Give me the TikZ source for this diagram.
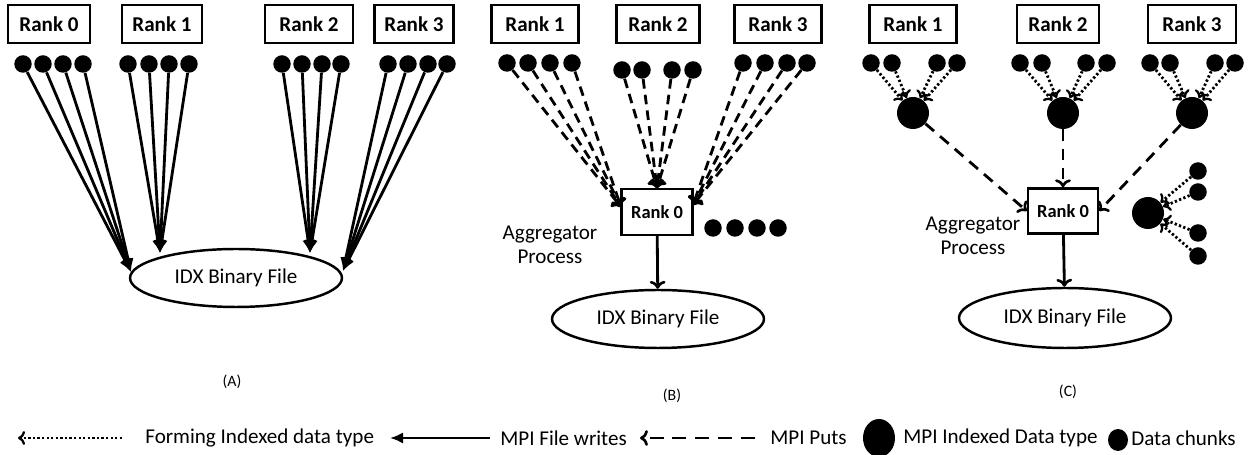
\documentclass[tikz,border=0pt]{standalone}
\usepackage{fontspec}
\setmainfont{Carlito}
\usetikzlibrary{arrows.meta,shapes.geometric}
\begin{document}
\begin{tikzpicture}[x=0.02cm,y=-0.02cm,
 font=\fontsize{12}{14}\selectfont,
 rankbox/.style={draw,line width=1.4pt,minimum height=0.76cm,inner sep=0pt,font=\fontsize{12}{14}\selectfont\bfseries},
 aggbox/.style={draw,line width=1.4pt,minimum width=1.42cm,minimum height=0.92cm,inner sep=0pt,font=\fontsize{10.5}{12}\selectfont\bfseries},
 chunk/.style={circle,fill,inner sep=0pt,minimum size=0.35cm},
 bigchunk/.style={circle,fill,inner sep=0pt,minimum size=0.64cm},
 filebox/.style={ellipse,draw,line width=1.4pt,minimum width=4.24cm,minimum height=1.16cm,inner sep=0pt},
 writearrow/.style={line width=1.6pt,-{Latex[length=7.5pt,width=6.5pt]}},
 putarrow/.style={line width=1.6pt,dash pattern=on 5.5pt off 3.5pt,-{Computer Modern Rightarrow[length=4.5pt,width=9pt,line width=1.5pt]}},
 formarrow/.style={line width=1.6pt,dash pattern=on 1.3pt off 1.3pt,-{Computer Modern Rightarrow[length=4pt,width=8pt,line width=1.3pt]}},
 downarrow/.style={line width=1.6pt,-{Computer Modern Rightarrow[length=4.5pt,width=9pt,line width=1.5pt]}},
 caption/.style={font=\fontsize{9}{11}\selectfont},
]
\useasboundingbox (0,0) rectangle (1249,455);

% ================= Panel A =================
\node[rankbox,minimum width=1.64cm] (A0) at (49,24) {Rank 0};
\node[rankbox,minimum width=1.60cm] (A1) at (162,24) {Rank 1};
\node[rankbox,minimum width=1.76cm] (A2) at (309,24) {Rank 2};
\node[rankbox,minimum width=1.58cm] (A3) at (414,24) {Rank 3};

\foreach \i/\x in {1/23,2/43,3/63,4/83} \node[chunk] (a0\i) at (\x,64) {};
\foreach \i/\x in {1/128,2/149,3/169,4/189} \node[chunk] (a1\i) at (\x,64) {};
\foreach \i/\x in {1/282,2/302,3/322,4/341} \node[chunk] (a2\i) at (\x,64) {};
\foreach \i/\x in {1/388,2/408,3/428,4/447} \node[chunk] (a3\i) at (\x,64) {};

\node[filebox] (fA) at (236,278) {IDX Binary File};
\coordinate (tA0) at (131,272);
\coordinate (tA1) at (160,253);
\coordinate (tA2) at (310,253);
\coordinate (tA3) at (343,271);
\foreach \r in {0,1,2,3}
  \foreach \i in {1,2,3,4}
    \draw[writearrow] (a\r\i) -- (tA\r);

\node[caption] (capA) at (232,382) {(A)};

% ================= Panel B =================
\node[rankbox,minimum width=1.74cm] (B1) at (535,24) {Rank 1};
\node[rankbox,minimum width=1.66cm] (B2) at (658,24) {Rank 2};
\node[rankbox,minimum width=1.74cm] (B3) at (778,24) {Rank 3};

\foreach \i/\x in {1/507,2/528,3/550,4/572} \node[chunk] (b1\i) at (\x,63) {};
\foreach \i/\x in {1/622,2/642,3/672,4/693} \node[chunk] (b2\i) at (\x,70) {};
\foreach \i/\x in {1/743,2/765,3/787,4/807} \node[chunk] (b3\i) at (\x,63) {};

\node[aggbox] (B0) at (657,212) {Rank 0};
\coordinate (tB1) at (621,207);
\coordinate (tB2) at (657,188);
\coordinate (tB3) at (693,205);
\foreach \r in {1,2,3}
  \foreach \i in {1,2,3,4}
    \draw[putarrow] (b\r\i) -- (tB\r);

\foreach \i/\x in {1/713,2/735,3/757,4/778} \node[chunk] (bx\i) at (\x,228) {};

\node[align=center] (aggB) at (550,245) {Aggregator\\Process};
\node[filebox] (fB) at (658,319) {IDX Binary File};
\draw[downarrow] (B0) -- (fB);
\node[caption] (capB) at (672,396) {(B)};

% ================= Panel C =================
\node[rankbox,minimum width=1.74cm] (C1) at (913,24) {Rank 1};
\node[rankbox,minimum width=1.64cm] (C2) at (1058,24) {Rank 2};
\node[rankbox,minimum width=1.76cm] (C3) at (1192,24) {Rank 3};

\foreach \i/\x in {1/871,2/892,3/937,4/957} \node[chunk] (c1\i) at (\x,63) {};
\foreach \i/\x in {1/1020,2/1042,3/1086,4/1107} \node[chunk] (c2\i) at (\x,63) {};
\foreach \i/\x in {1/1150,2/1170,3/1215,4/1235} \node[chunk] (c3\i) at (\x,63) {};

\node[bigchunk] (g1) at (913,113) {};
\node[bigchunk] (g2) at (1063,113) {};
\node[bigchunk] (g3) at (1192,113) {};
\foreach \r in {1,2,3}
  \foreach \i in {1,2,3,4}
    \draw[formarrow] (c\r\i) -- (g\r);

\node[aggbox,minimum width=1.40cm,minimum height=0.90cm] (C0) at (1063,211) {Rank 0};
\draw[putarrow,dash pattern=on 6.5pt off 4.5pt] (g1) -- (C0.west);
\draw[putarrow,dash pattern=on 6.5pt off 4.5pt] (g2) -- (C0.north);
\draw[putarrow,dash pattern=on 6.5pt off 4.5pt] (g3) -- (C0.east);

\node[bigchunk] (g4) at (1148,213) {};
\foreach \i/\y in {1/171,2/192,3/233,4/256} {
  \node[chunk] (c4\i) at (1198,\y) {};
  \draw[formarrow] (c4\i) -- (g4);
}

\node[align=center] (aggC) at (973,236) {Aggregator\\Process};
\node[filebox,minimum height=1.2cm] (fC) at (1065,318) {IDX Binary File};
\draw[downarrow] (C0) -- (fC);
\node[caption] (capC) at (1068,392) {(C)};

% ================= Legend =================
\coordinate (l1s) at (122,438); \coordinate (l1e) at (18,438);
\draw[formarrow] (l1s) -- (l1e);
\node[anchor=west,inner sep=0pt] (t1) at (145,438) {Forming Indexed data type};
\coordinate (l2s) at (490,438); \coordinate (l2e) at (390,438);
\draw[writearrow] (l2s) -- (l2e);
\node[anchor=west,inner sep=0pt] (t2) at (500,438) {MPI File writes};
\coordinate (l3s) at (755,438); \coordinate (l3e) at (640,438);
\draw[putarrow,dash pattern=on 8pt off 5pt] (l3s) -- (l3e);
\node[anchor=west,inner sep=0pt] (t3) at (770,438) {MPI Puts};
\node[ellipse,fill,inner sep=0pt,minimum width=0.64cm,minimum height=0.76cm] (lg) at (879,438) {};
\node[anchor=west,inner sep=0pt] (t4) at (903,438) {MPI Indexed Data type};
\node[ellipse,fill,inner sep=0pt,minimum width=0.4cm,minimum height=0.44cm] (ls) at (1118,440) {};
\node[anchor=west,inner sep=0pt] (t5) at (1131,438) {Data chunks};
\end{tikzpicture}
\end{document}
